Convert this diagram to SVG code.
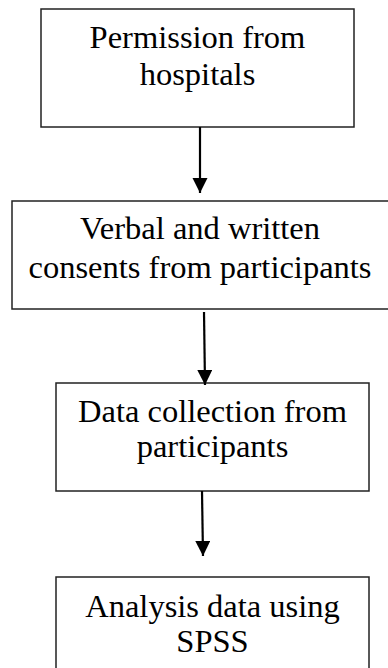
<svg xmlns="http://www.w3.org/2000/svg" width="388" height="668" viewBox="0 0 388 668">
<style>
.box{fill:#fff;stroke:#222;stroke-width:1.5}
.t{font-size:32.5px;fill:#000;text-anchor:middle}
.c{stroke:#000;stroke-width:2.2;fill:none}
</style>
<defs>
<marker id="ah" markerUnits="userSpaceOnUse" markerWidth="16" markerHeight="16" refX="15" refY="7.5" orient="auto">
<path d="M0,0 L15,7.5 L0,15 Z" fill="#000"/>
</marker>
</defs>
<rect width="388" height="668" fill="#fff"/>
<g id="n1">
<rect class="box" x="41" y="9" width="313" height="118"/>
<text class="t" font-family="Liberation Serif, Times New Roman, DejaVu Serif, serif" x="197.5" y="48">Permission from</text>
<text class="t" font-family="Liberation Serif, Times New Roman, DejaVu Serif, serif" x="197.5" y="85">hospitals</text>
</g>
<g id="n2">
<rect class="box" x="12" y="201" width="380" height="108"/>
<text class="t" font-family="Liberation Serif, Times New Roman, DejaVu Serif, serif" x="200" y="239">Verbal and written</text>
<text class="t" font-family="Liberation Serif, Times New Roman, DejaVu Serif, serif" x="200" y="278">consents from participants</text>
</g>
<g id="n3">
<rect class="box" x="56" y="383" width="313" height="108"/>
<text class="t" font-family="Liberation Serif, Times New Roman, DejaVu Serif, serif" x="212.5" y="422">Data collection from</text>
<text class="t" font-family="Liberation Serif, Times New Roman, DejaVu Serif, serif" x="212.5" y="457">participants</text>
</g>
<g id="n4">
<rect class="box" x="56" y="577" width="313" height="100"/>
<text class="t" font-family="Liberation Serif, Times New Roman, DejaVu Serif, serif" x="212.5" y="617">Analysis data using</text>
<text class="t" font-family="Liberation Serif, Times New Roman, DejaVu Serif, serif" x="212.5" y="652">SPSS</text>
</g>
<g id="connectors">
<line class="c" x1="200" y1="127" x2="200" y2="193" marker-end="url(#ah)"/>
<line class="c" x1="204" y1="312" x2="205" y2="385" marker-end="url(#ah)"/>
<line class="c" x1="202" y1="491" x2="203" y2="556" marker-end="url(#ah)"/>
</g>
</svg>
